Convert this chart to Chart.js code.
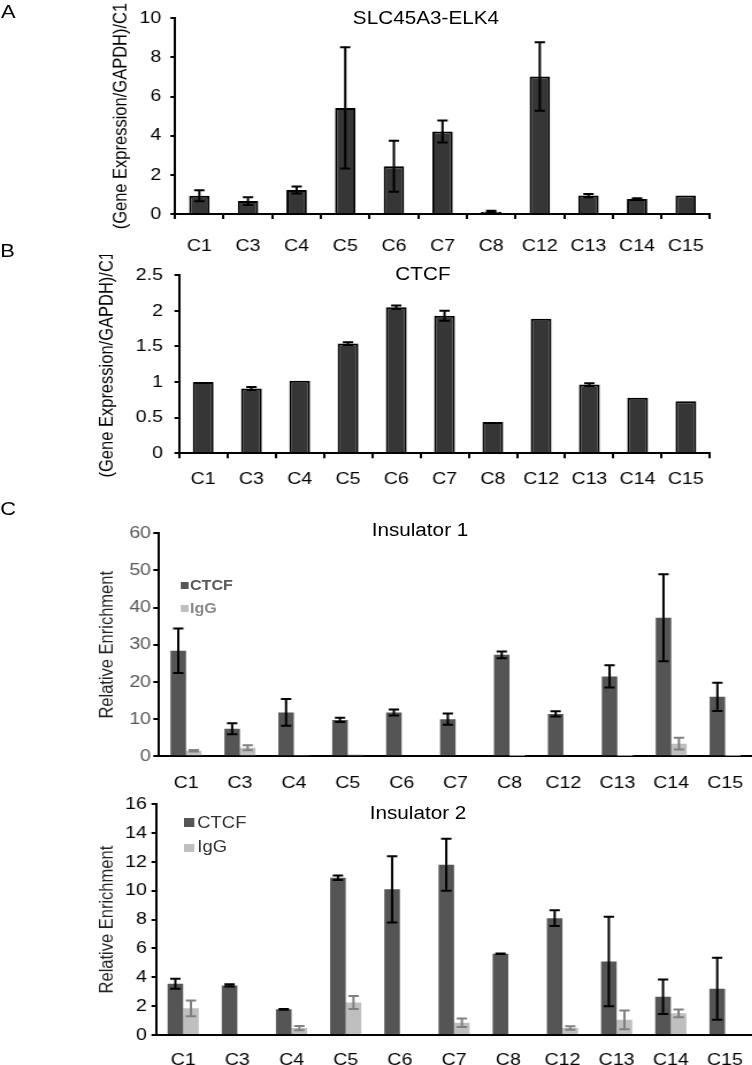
<!DOCTYPE html>
<html>
<head>
<meta charset="utf-8">
<script src="https://cdn.jsdelivr.net/npm/chart.js@4.4.1/dist/chart.umd.min.js"></script>
<style>
  html, body { margin: 0; padding: 0; background: #fff; }
  body { width: 752px; height: 1065px; overflow: hidden; }
  /* the figure is a little wider than tall text would suggest, so stretch it */
  #page { position: relative; width: 654px; height: 1065px; transform: scaleX(1.15); transform-origin: 0 0;
          font-family: 'Liberation Sans', Arial, sans-serif; }
  canvas { position: absolute; left: 0; }
  .txt { position: absolute; line-height: 1; white-space: nowrap; transform: translateX(-50%); color: #000; }
  .lbl { position: absolute; line-height: 1; white-space: nowrap; }
  .box { position: absolute; }
</style>
</head>
<body>
<div id="page">
  <div class="txt" style="left:7.2px; top:2.2px; font-size:19px;">A</div>
  <div class="txt" style="left:6.5px; top:240.7px; font-size:19px;">B</div>
  <div class="txt" style="left:7.2px; top:498.7px; font-size:19px;">C</div>

  <canvas id="chartA" width="654" height="252" style="top:0px"></canvas>
  <canvas id="chartB" width="654" height="255" style="top:255px"></canvas>
  <canvas id="chartC1" width="654" height="275" style="top:515px"></canvas>
  <canvas id="chartC2" width="654" height="275" style="top:790px"></canvas>

  <div class="txt" style="left:370.4px; top:8.7px; font-size:18px;">SLC45A3-ELK4</div>
  <div class="txt" style="left:367.8px; top:265.2px; font-size:18px;">CTCF</div>
  <div class="txt" style="left:365.2px; top:520.9px; font-size:18px;">Insulator 1</div>
  <div class="txt" style="left:363.5px; top:803.7px; font-size:18px;">Insulator 2</div>

  <!-- legend, Insulator 1 -->
  <div class="box" style="left:156.5px; top:581.7px; width:7px; height:7px; background:#555555;"></div>
  <div class="lbl" style="left:165.2px; top:578.2px; font-size:14px; font-weight:bold; color:#595959;">CTCF</div>
  <div class="box" style="left:156.5px; top:605px; width:7px; height:7px; background:#bfbfbf;"></div>
  <div class="lbl" style="left:165.2px; top:600.7px; font-size:14px; font-weight:bold; color:#8a8a8a;">IgG</div>

  <!-- legend, Insulator 2 -->
  <div class="box" style="left:160px; top:818px; width:9px; height:8.5px; background:#555555;"></div>
  <div class="lbl" style="left:171.6px; top:815.2px; font-size:16px; color:#333;">CTCF</div>
  <div class="box" style="left:160px; top:843.5px; width:9px; height:8.5px; background:#bfbfbf;"></div>
  <div class="lbl" style="left:171.6px; top:838.9px; font-size:16px; color:#333;">IgG</div>
</div>

<script>
// categories (cell lines)
const categories = ['C1', 'C3', 'C4', 'C5', 'C6', 'C7', 'C8', 'C12', 'C13', 'C14', 'C15'];

// A: SLC45A3-ELK4 expression
const elk4Values = [0.93, 0.66, 1.23, 5.42, 2.44, 4.21, 0.12, 7.02, 0.94, 0.76, 0.94];
const elk4Errors = [0.28, 0.2, 0.18, 3.1, 1.3, 0.56, 0.04, 1.75, 0.08, 0.05, 0];

// B: CTCF expression
const ctcfValues = [1.0, 0.91, 1.02, 1.54, 2.05, 1.93, 0.44, 1.89, 0.965, 0.78, 0.73];
const ctcfErrors = [0, 0.02, 0, 0.02, 0.025, 0.07, 0, 0, 0.02, 0, 0];

// C: ChIP, Insulator 1
const ins1Ctcf = [28.4, 7.4, 11.8, 9.8, 11.8, 10.0, 27.3, 11.4, 21.5, 37.3, 16.0];
const ins1CtcfErr = [6.0, 1.5, 3.6, 0.6, 0.8, 1.5, 0.9, 0.7, 3.0, 11.7, 3.8];
const ins1Igg = [1.5, 2.3, 0.2, 0.5, 0.3, 0.3, 0.1, 0.3, 0.1, 3.4, 0.1];
const ins1IggErr = [0.2, 0.7, 0, 0, 0, 0, 0, 0, 0, 1.6, 0];

// C: ChIP, Insulator 2
const ins2Ctcf = [3.55, 3.44, 1.78, 10.9, 10.1, 11.8, 5.63, 8.1, 5.1, 2.65, 3.2];
const ins2CtcfErr = [0.35, 0.08, 0.03, 0.15, 2.3, 1.8, 0.02, 0.55, 3.1, 1.2, 2.15];
const ins2Igg = [1.85, null, 0.48, 2.25, null, 0.85, null, 0.48, 1.05, 1.5, null];
const ins2IggErr = [0.55, 0, 0.15, 0.45, 0, 0.3, 0, 0.12, 0.65, 0.27, 0];

Chart.defaults.font.family = "'Liberation Sans', Arial, sans-serif";
Chart.defaults.color = '#000';
Chart.defaults.animation = false;

// draws +/- error whiskers on top of each bar
const errorBars = {
    id: 'errorBars',
    afterDatasetsDraw(chart) {
        const ctx = chart.ctx;
        const y = chart.scales.y;
        chart.data.datasets.forEach((ds, i) => {
            if (!ds.errors) return;
            chart.getDatasetMeta(i).data.forEach((bar, j) => {
                const v = ds.data[j];
                const e = ds.errors[j];
                if (v == null || !e) return;
                const top = y.getPixelForValue(v + e);
                const bottom = y.getPixelForValue(Math.max(v - e, 0));
                const cap = 4.5;
                ctx.save();
                ctx.strokeStyle = ds.errorColor;
                ctx.lineWidth = 2;
                ctx.beginPath();
                ctx.moveTo(bar.x, top);
                ctx.lineTo(bar.x, bottom);
                ctx.moveTo(bar.x - cap, top);
                ctx.lineTo(bar.x + cap, top);
                ctx.moveTo(bar.x - cap, bottom);
                ctx.lineTo(bar.x + cap, bottom);
                ctx.stroke();
                ctx.restore();
            });
        });
    }
};

// one panel; area = wanted plot box inside the canvas
function panel(id, o) {
    const canvas = document.getElementById(id);
    const W = canvas.width, H = canvas.height;
    return new Chart(canvas, {
        type: 'bar',
        data: { labels: categories, datasets: o.datasets },
        options: {
            responsive: false,
            devicePixelRatio: 1,
            layout: { padding: { left: o.titleLeft, top: o.area.top, right: W - o.area.right, bottom: 0 } },
            plugins: { legend: { display: false }, tooltip: { enabled: false } },
            scales: {
                x: {
                    ticks: { autoSkip: false, maxRotation: 0, padding: o.xPad, color: '#000', font: { size: 17 } },
                    grid: { drawOnChartArea: false, drawTicks: true, tickLength: o.xTick,
                            color: o.xTickColor, lineWidth: 2 },
                    border: { display: true, color: '#000', width: 2 },
                    afterFit: s => { s.height = H - o.area.bottom; }
                },
                y: {
                    min: 0,
                    max: o.yMax,
                    ticks: { stepSize: o.yStep, padding: o.yPad, color: o.yColor, font: { size: 17 },
                             callback: v => String(v) },
                    grid: { drawOnChartArea: false, drawTicks: true, tickLength: o.yTick, color: '#000', lineWidth: 2 },
                    border: { display: true, color: '#000', width: 2 },
                    title: { display: true, text: o.yTitle, padding: 0, color: o.yTitleColor, font: { size: 16.5 } },
                    afterFit: s => { s.width = o.area.left - o.titleLeft; }
                }
            }
        },
        plugins: [errorBars]
    });
}

// A: SLC45A3-ELK4
panel('chartA', {
    area: { left: 152.2, right: 617.4, top: 16, bottom: 214 },
    titleLeft: 95.3,
    yMax: 10, yStep: 2, yPad: 8, yTick: 4, yColor: '#000',
    yTitle: '(Gene Expression/GAPDH)/C1', yTitleColor: '#000',
    xPad: 17.5, xTick: 5, xTickColor: '#000',
    datasets: [{
        label: 'SLC45A3-ELK4',
        data: elk4Values,
        errors: elk4Errors,
        errorColor: '#000',
        backgroundColor: '#363636',
        borderColor: '#000',
        borderWidth: 2,
        barPercentage: 0.42,
        categoryPercentage: 1
    }]
});

// B: CTCF
panel('chartB', {
    area: { left: 155.7, right: 617.4, top: 19.7, bottom: 198.3 },
    titleLeft: 84,
    yMax: 2.5, yStep: 0.5, yPad: 10, yTick: 4, yColor: '#000',
    yTitle: '(Gene Expression/GAPDH)/C1', yTitleColor: '#000',
    xPad: 10.5, xTick: 5, xTickColor: '#000',
    datasets: [{
        label: 'CTCF',
        data: ctcfValues,
        errors: ctcfErrors,
        errorColor: '#000',
        backgroundColor: '#363636',
        borderColor: '#000',
        borderWidth: 2,
        barPercentage: 0.43,
        categoryPercentage: 1
    }]
});

// C: Insulator 1
panel('chartC1', {
    area: { left: 138.3, right: 654, top: 18.3, bottom: 241.3 },
    titleLeft: 83.1,
    yMax: 60, yStep: 10, yPad: 2, yTick: 5, yColor: '#595959',
    yTitle: 'Relative Enrichment', yTitleColor: '#222',
    xPad: 6.5, xTick: 10, xTickColor: 'rgba(0,0,0,0)',
    datasets: [{
        label: 'CTCF',
        data: ins1Ctcf,
        errors: ins1CtcfErr,
        errorColor: '#000',
        backgroundColor: '#555555',
        barPercentage: 1,
        categoryPercentage: 0.575
    }, {
        label: 'IgG',
        data: ins1Igg,
        errors: ins1IggErr,
        errorColor: '#808080',
        backgroundColor: '#bfbfbf',
        barPercentage: 1,
        categoryPercentage: 0.575
    }]
});

// C: Insulator 2
panel('chartC2', {
    area: { left: 135.7, right: 654, top: 14, bottom: 245 },
    titleLeft: 83.1,
    yMax: 16, yStep: 2, yPad: 4, yTick: 4, yColor: '#000',
    yTitle: 'Relative Enrichment', yTitleColor: '#222',
    xPad: 5, xTick: 10, xTickColor: 'rgba(0,0,0,0)',
    datasets: [{
        label: 'CTCF',
        data: ins2Ctcf,
        errors: ins2CtcfErr,
        errorColor: '#000',
        backgroundColor: '#555555',
        barPercentage: 1,
        categoryPercentage: 0.575
    }, {
        label: 'IgG',
        data: ins2Igg,
        errors: ins2IggErr,
        errorColor: '#808080',
        backgroundColor: '#bfbfbf',
        barPercentage: 1,
        categoryPercentage: 0.575
    }]
});
</script>
</body>
</html>
